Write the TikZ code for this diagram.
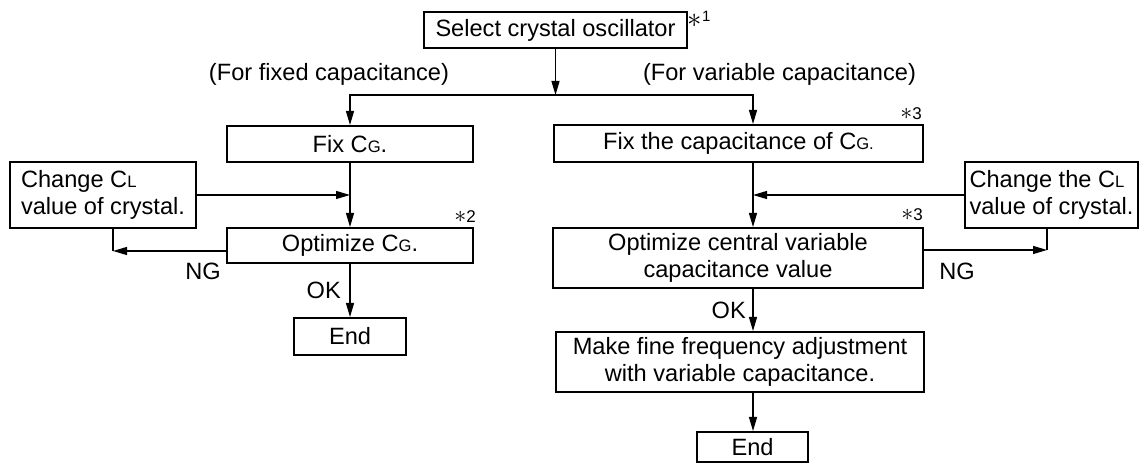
\documentclass[tikz,border=0pt]{standalone}
\usepackage{fontspec}
\setmainfont{Liberation Sans}
\usetikzlibrary{arrows.meta}
\tikzset{>={Triangle[length=7pt,width=4pt]}}
\tikzset{blk/.style={draw,line width=1pt,inner sep=2pt,align=center}}
\tikzset{lbl/.style={inner sep=0pt}}
\newcommand\lowc[1]{{\fontsize{8.3}{8.3}\selectfont #1}}
\newcommand\notea[1]{{\fontsize{14}{14}\selectfont$\ast$\raisebox{3pt}{\fontsize{7.5}{7.5}\selectfont #1}}}
\newcommand\noteb[1]{{\fontsize{13}{13}\selectfont$\ast$}{\fontsize{8.5}{8.5}\selectfont #1}}

\begin{document}
\begin{tikzpicture}[x=0.5pt,y=-0.5pt,font=\fontsize{11.8}{13.5}\selectfont,line width=0.6pt]
    \useasboundingbox (0,0) rectangle (1140,464);
    \node[blk,minimum width=131.5pt,minimum height=18pt] (S) at (555.5,30) {Select crystal oscillator};
    \node[blk,minimum width=123pt,minimum height=18pt] (L1) at (350,144) {Fix C\lowc{G}.};
    \node[blk,minimum width=184.5pt,minimum height=18.5pt] (R1) at (738.5,143.5) {Fix the capacitance of C\lowc{G.}};
    \node[blk,minimum width=93pt,minimum height=33pt,align=left] (L0) at (103,195) {Change C\lowc{L}\\value of crystal.};
    \node[blk,minimum width=86.5pt,minimum height=33pt,align=left] (R0) at (1051.5,195) {Change the C\lowc{L}\\value of crystal.};
    \node[blk,minimum width=123pt,minimum height=17.5pt] (L2) at (350,245.5) {Optimize C\lowc{G}.};
    \node[blk,minimum width=185pt,minimum height=30pt] (R2) at (738,258) {Optimize central variable\\capacitance value};
    \node[blk,minimum width=56pt,minimum height=18.5pt] (L3) at (350,336.5) {End};
    \node[blk,minimum width=184pt,minimum height=30pt] (R3) at (740,362) {Make fine frequency adjustment\\with variable capacitance.};
    \node[blk,minimum width=55.5pt,minimum height=15pt] (R4) at (752.5,447) {End};
    % labels
    \node[lbl] (T1) at (329,74) {(For fixed capacitance)};
    \node[lbl] (T2) at (779.5,74) {(For variable capacitance)};
    \node[lbl] (N1) at (699,19) {\notea{1}};
    \node[lbl] (N2) at (465,217) {\noteb{2}};
    \node[lbl] (N3a) at (911,114) {\noteb{3}};
    \node[lbl] (N3b) at (912,215) {\noteb{3}};
    \node[lbl] (NGa) at (203,271.5) {NG};
    \node[lbl] (NGb) at (957,271.5) {NG};
    % junctions
    \coordinate (J) at (555.5,95);
    \coordinate (CR) at (753,0);
    \coordinate (ML) at (L1.south |- L0.east);
    \coordinate (MR) at (CR |- R0.west);
    \coordinate (KL) at (113,251);
    \coordinate (KR) at (1047,250);
    % connectors
    \draw[->] (S.south) -- (J);
    \draw[->] (J) -| (L1.north);
    \draw[->] (J) -| (CR |- R1.north);
    \draw[->] (L1) -- (L2);
    \draw[->] (L0.east) -- (ML);
    \draw[->] (L2.west |- KL) -- (KL);
    \draw (KL) -- (KL |- L0.south);
    \draw[->] (L2.south) -- node[left=1pt] (OKa) {OK} (L3.north);
    \draw[->] (CR |- R1.south) -- (CR |- R2.north);
    \draw[->] (R0.west) -- (MR);
    \draw[->] (R2.east |- KR) -- (KR);
    \draw (KR) -- (KR |- R0.south);
    \draw[->] (CR |- R2.south) -- node[left=0pt] (OKb) {OK} (CR |- R3.north);
    \draw[->] (CR |- R3.south) -- (CR |- R4.north);
  \end{tikzpicture}
\end{document}
